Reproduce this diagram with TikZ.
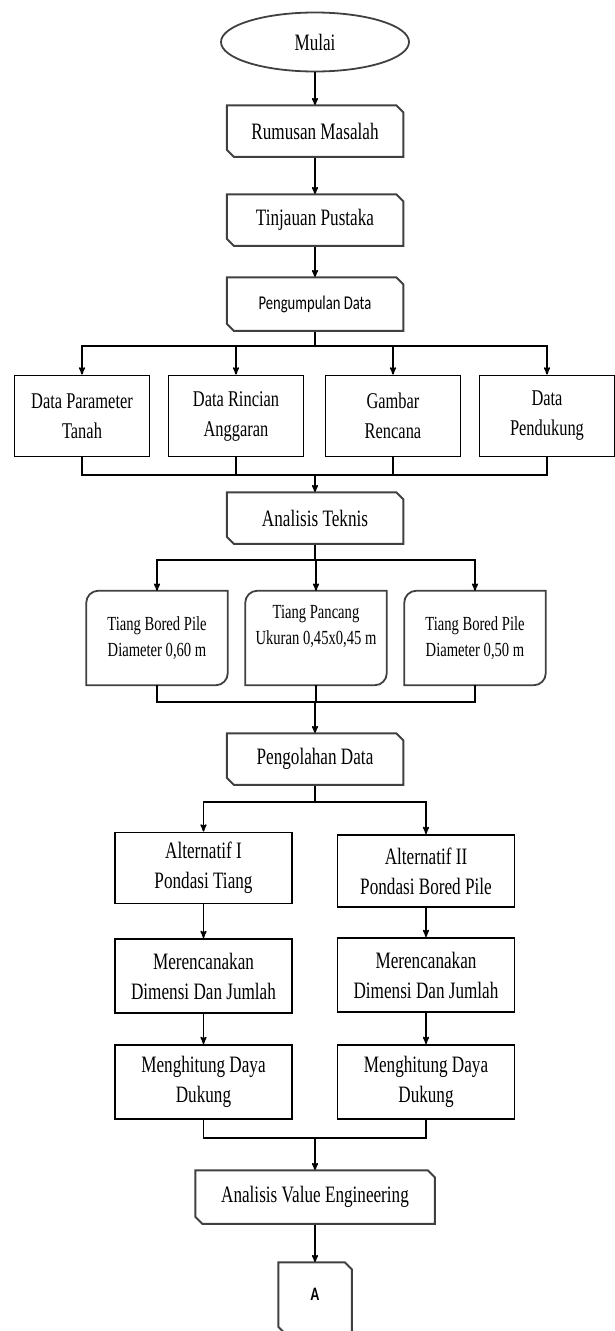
\documentclass[tikz,border=0pt]{standalone}
\usepackage{fontspec}
\setmainfont{Liberation Serif}[FakeStretch=0.73]
\newfontfamily\calfont{Carlito}[FakeStretch=0.75]
\usetikzlibrary{arrows}
\usetikzlibrary{shapes.geometric}

\begin{document}
\begin{tikzpicture}[x=1pt, y=-1pt, >=stealth', line width=1.5pt,
  txt/.style={align=center, font=\fontsize{23.5}{30}\selectfont},
  cutbox/.style={txt, minimum width=175pt, minimum height=50pt, inner sep=0pt},
  boxline/.style={draw=black!75, line width=2pt},
  databox/.style={txt, draw, line width=1.8pt, minimum width=135pt, minimum height=81pt,
    inner sep=0pt, font=\fontsize{22.5}{30}\selectfont},
  pilebox/.style={align=center, minimum width=140pt, minimum height=93pt, inner sep=0pt,
    font=\fontsize{20}{26}\selectfont},
  altbox/.style={txt, draw, line width=1.8pt, minimum width=177pt, minimum height=74pt, inner sep=0pt}]
\useasboundingbox (0,0) rectangle (615,1331);

\node[txt, ellipse, boxline, line width=1.8pt, minimum width=188pt, minimum height=59pt, inner sep=0pt] (mulai) at (315,42) {Mulai};
\node[cutbox] (rumusan) at (315,131) {Rumusan Masalah};
\node[cutbox] (tinjauan) at (315,220) {Tinjauan Pustaka};
\node[cutbox, minimum height=52pt, font=\calfont\fontsize{19.5}{24}\selectfont] (kumpul) at (315,304) {Pengumpulan Data};
\draw[->] (mulai) -- (rumusan);
\draw[->] (rumusan) -- (tinjauan);
\draw[->] (tinjauan) -- (kumpul);

\node[databox] (tanah) at (82,416) {Data Parameter\\Tanah};
\node[databox] (rab) at (236,416) {Data Rincian\\Anggaran};
\node[databox] (gambar) at (393,416) {Gambar\\Rencana};
\node[databox] (dukung) at (547,416) {Data\\Pendukung};
\coordinate (bus1) at (315,346);
\coordinate (bus2) at (315,475);
\draw (kumpul) -- (bus1);
\foreach \n in {tanah,rab,gambar,dukung} {
  \draw[->] (bus1) -| (\n.north);
  \draw (\n.south) |- (bus2);
}

\node[cutbox] (teknis) at (315,518) {Analisis Teknis};
\draw[->] (bus2) -- (teknis);

\node[pilebox] (bp60) at (157,638) {Tiang Bored Pile\\Diameter 0,60 m};
\node[pilebox, text depth=27pt] (pancang) at (316,638) {Tiang Pancang\\Ukuran 0,45x0,45 m};
\node[pilebox] (bp50) at (475,638) {Tiang Bored Pile\\Diameter 0,50 m};
\coordinate (bus3) at (315,560);
\coordinate (bus4) at (315,702);
\draw (teknis) -- (bus3);
\foreach \n in {bp60,pancang,bp50} {
  \draw[boxline, line width=1.8pt] (\n.west) [rounded corners=12pt] |- (\n.north) [sharp corners] -| (\n.east)
    [rounded corners=12pt] |- (\n.south) [sharp corners] -| (\n.west) -- cycle;
  \draw[->] (bus3) -| (\n.north);
  \draw (\n.south) |- (bus4);
}

\node[cutbox] (olah) at (315,759) {Pengolahan Data};
\draw[->] (bus4) -- (olah);

\node[altbox, minimum height=71pt] (alt1) at (203.5,868) {Alternatif I\\Pondasi Tiang};
\node[altbox, minimum height=72pt] (alt2) at (426,871) {Alternatif II\\Pondasi Bored Pile};
\node[altbox] (rencana1) at (203.5,976) {Merencanakan\\Dimensi Dan Jumlah};
\node[altbox] (rencana2) at (426,975) {Merencanakan\\Dimensi Dan Jumlah};
\node[altbox] (hitung1) at (203.5,1082) {Menghitung Daya\\Dukung};
\node[altbox] (hitung2) at (426,1082) {Menghitung Daya\\Dukung};
\coordinate (bus5) at (315,802);
\coordinate (bus6) at (315,1138);
\draw (olah) -- (bus5);
\draw[->] (bus5) -| (alt1.north);
\draw[->] (bus5) -| (alt2.north);
\draw[->] (alt1) -- (rencana1);
\draw[->] (alt2) -- (rencana2);
\draw[->] (rencana1) -- (hitung1);
\draw[->] (rencana2) -- (hitung2);
\draw (hitung1.south) |- (bus6);
\draw (hitung2.south) |- (bus6);

\node[cutbox, minimum width=238pt, minimum height=52pt] (ave) at (315,1197) {Analisis Value Engineering};
\node[cutbox, minimum width=72pt, minimum height=70pt, text depth=8pt, font=\calfont\bfseries\fontsize{19}{22}\selectfont] (A) at (315,1298) {A};
\draw[->] (bus6) -- (ave);
\draw[->] (ave) -- (A);

\foreach \n in {rumusan,tinjauan,kumpul,teknis,olah,ave,A}
  \draw[boxline] ([xshift=-7pt]\n.north east) -- (\n.north west) -- ([yshift=7pt]\n.south west)
    -- ([xshift=7pt]\n.south west) -- (\n.south east) -- ([yshift=-7pt]\n.north east) -- cycle;
\end{tikzpicture}
\end{document}
